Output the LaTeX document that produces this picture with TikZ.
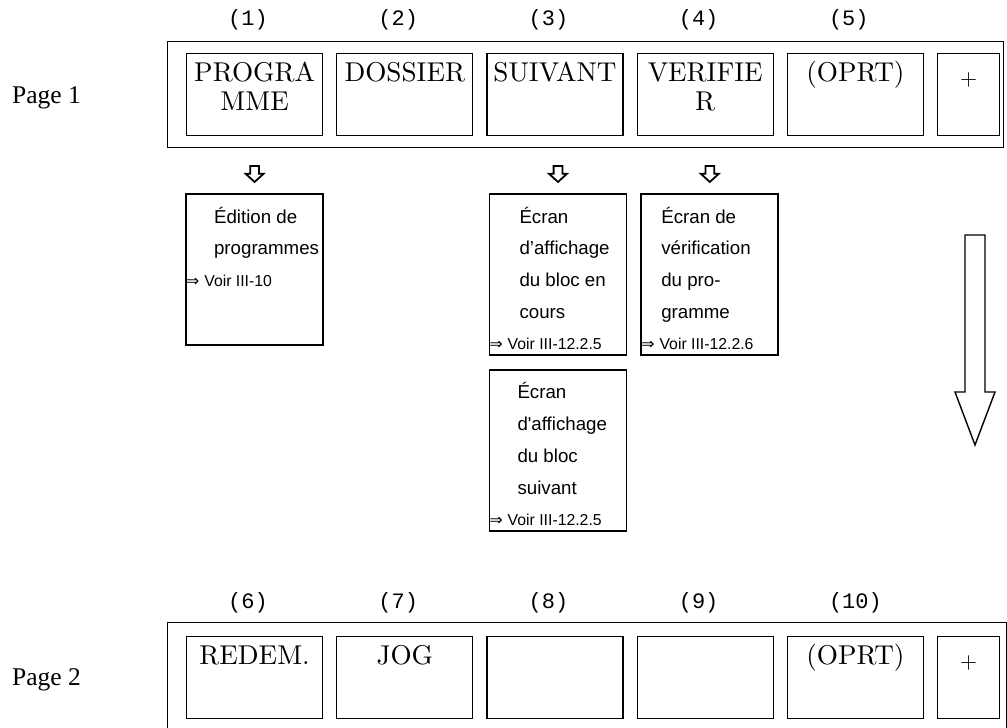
\documentclass[tikz,border=0pt]{standalone}
\usepackage{fontspec}
\usetikzlibrary{positioning, calc, shapes.arrows}
\newfontfamily\cmfont{lmroman10-regular.otf}
\newfontfamily\arial{Liberation Sans}
\newfontfamily\pagefont{Liberation Serif}
\newfontfamily\numfont{Liberation Mono}
\newfontfamily\dejavu{DejaVu Sans}

% libellé de touche sur deux lignes, aligné sur la première
\newcommand{\deuxlignes}[2]{\begin{tabular}[t]{@{}c@{}}#1\\#2\end{tabular}}
% renvoi en bas d'un écran
\newcommand{\voir}[1]{{\fontsize{15.8}{31.7}\selectfont{\dejavu ⇒}\hspace{5pt}Voir #1}}
% texte d'un écran : retrait optionnel, lignes, renvoi
\newcommand{\bloc}[3][28pt]{\parbox[t]{137pt}{\leftskip=#1 #2\\\hspace*{-#1}\voir{#3}}}

\begin{document}
\begin{tikzpicture}[x=1pt, y=-1pt, node distance=13pt,
    touche/.style={draw, line width=1.2pt, inner sep=0pt, minimum width=136pt,
      text height=28pt, text depth=54pt, font=\cmfont\fontsize{27.2}{29}\selectfont},
    plus/.style={touche, minimum width=62pt, text height=32pt, text depth=50pt,
      font=\cmfont\fontsize{22}{22}\selectfont},
    numero/.style={anchor=west, inner sep=0pt, font=\numfont\fontsize{22}{22}\selectfont},
    pagelbl/.style={anchor=base west, inner sep=0pt, font=\pagefont\fontsize{25.5}{26}\selectfont},
    ecran/.style={draw, line width=1.8pt, inner sep=0pt, text height=29pt, text depth=#1,
      font=\arial\fontsize{18.7}{31.7}\selectfont},
    ecran/.default=132pt,
    petitefleche/.style={draw, line width=1.8pt, single arrow, shape border rotate=270,
      single arrow head extend=4.5pt, single arrow tip angle=95, minimum height=16pt,
      inner sep=3.5pt},
    cadre/.style={draw, line width=1pt}]
  \useasboundingbox (0,0) rectangle (1007,728);

  % page 1
  \draw[cadre] (167,41) rectangle (1003,147);
  \node[pagelbl] (page1) at (12,103) {Page 1};
  \node[touche, anchor=north west] (prog) at (186,53) {\deuxlignes{PROGRA}{MME}};
  \node[touche, right=of prog] (doss) {DOSSIER};
  \node[touche, right=of doss] (suiv) {SUIVANT};
  \node[touche, right=of suiv] (verif) {\deuxlignes{VERIFIE}{R}};
  \node[touche, right=of verif] (oprt1) {(OPRT)};
  \node[plus, right=of oprt1] (plus1) {+};
  \foreach \t/\n in {prog/1, doss/2, suiv/3, verif/4, oprt1/5}
    \node[numero] (num\n) at ($(\t.north west)+(42,-33)$) {(\n)};

  % écrans ouverts par les touches
  \node[ecran=122pt, below=57pt of prog] (edit) {\bloc{Édition de\\programmes}{III-10}};
  \node[ecran, below=57pt of suiv, xshift=3pt] (bloc1)
    {\bloc[30pt]{Écran\\d’affichage\\du bloc en\\cours}{III-12.2.5}};
  \node[ecran, right=13pt of bloc1] (controle)
    {\bloc[20pt]{Écran de\\vérification\\du pro-\\gramme}{III-12.2.6}};
  \node[ecran, below=13pt of bloc1] (bloc2)
    {\bloc{Écran\\d\textquotesingle affichage\\du bloc\\suivant}{III-12.2.5}};
  \node[petitefleche, above=10pt of edit] (f1) {};
  \node[petitefleche, above=10pt of bloc1] (f2) {};
  \node[petitefleche, above=10pt of controle] (f3) {};

  % passage à la page suivante
  \draw[line width=1.4pt] (965,235) -- (985,235) -- (985,392) -- (995,392)
    -- (975,445) -- (955,392) -- (965,392) -- cycle;

  % page 2
  \draw[cadre] (167,622) rectangle (1006,735);
  \node[pagelbl] (page2) at (12,685) {Page 2};
  \node[touche, anchor=north west] (redem) at (186,636) {REDEM.};
  \node[touche, right=of redem] (jog) {JOG};
  \node[touche, right=of jog] (vide1) {};
  \node[touche, right=of vide1] (vide2) {};
  \node[touche, right=of vide2] (oprt2) {(OPRT)};
  \node[plus, right=of oprt2] (plus2) {+};
  \foreach \t/\n in {redem/6, jog/7, vide1/8, vide2/9, oprt2/10}
    \node[numero] (num\n) at ($(\t.north west)+(42,-33)$) {(\n)};
\end{tikzpicture}
\end{document}
